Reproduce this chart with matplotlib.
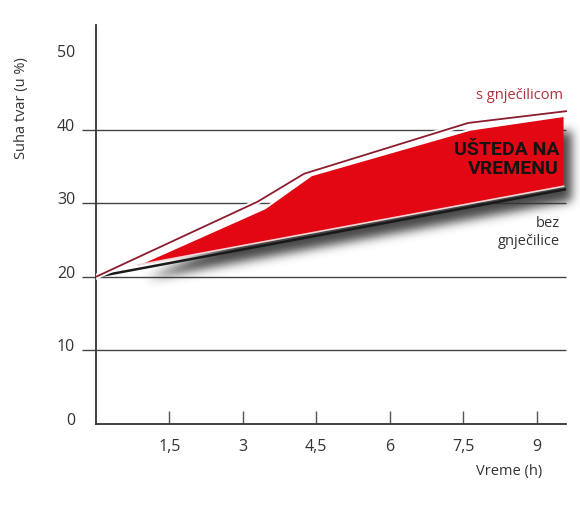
import numpy as np
import matplotlib
matplotlib.use("Agg")
import matplotlib.pyplot as plt
import matplotlib.patheffects as pe
from matplotlib.path import Path
from matplotlib.transforms import ScaledTranslation

# podaci (ocitano sa slike)
x_bez = [0, 9.6]
y_bez = [20, 31.9]
x_s = [0, 3.3, 4.25, 7.6, 9.6]
y_s = [20, 30.2, 34.0, 40.9, 42.5]
# crveno polje "usteda na vremenu"
x_fill_top = [0.85, 3.45, 4.4, 7.65, 9.55]
y_fill_top = [21.6, 29.3, 33.8, 40.0, 41.85]
x_fill_bot = [0.85, 9.55]
y_fill_bot = [21.6, 32.3]

y_ticks = [0, 10, 20, 30, 40, 50]
y_grid = [10, 20, 30, 40]
x_max = 9.6
x_ticks = [1.5, 3, 4.5, 6, 7.5, 9]
x_labels = ["1,5", "3", "4,5", "6", "7,5", "9"]

plt.rcParams['font.family'] = ['Open Sans', 'DejaVu Sans']

fig = plt.figure(figsize=(5.8, 5.05), dpi=100)
ax = fig.add_axes([0.1655, 0.1604, 0.8357, 0.8016])
ax.set_xlim(0, 9.9)
ax.set_ylim(0, 55)

# osi
for s in ['top', 'right']:
    ax.spines[s].set_visible(False)
ax.spines['left'].set_bounds(0, 54.2)
ax.spines['bottom'].set_bounds(0, x_max)
for s in ['left', 'bottom']:
    ax.spines[s].set_color('#333333')
    ax.spines[s].set_linewidth(1.3)

ax.yaxis.remove_overlapping_locs = False
ax.set_yticks(y_ticks)
ax.set_yticks(y_grid, minor=True)
ax.tick_params(axis='y', which='major', length=0, pad=15, labelsize=11.5, labelcolor='#333333')
ax.tick_params(axis='y', which='minor', length=10, width=1, color='#444444')
for lab in ax.get_yticklabels():
    lab.set_transform(lab.get_transform() + ScaledTranslation(0, 0.05, fig.dpi_scale_trans))

# mreza samo do kraja x osi
ax.hlines(y_grid, 0, x_max, color='#444444', linewidth=1, zorder=0.5)

ax.set_xticks(x_ticks)
ax.set_xticklabels(x_labels)
ax.tick_params(axis='x', direction='in', length=9.5, width=1, color='#555555',
               pad=11, labelsize=11.5, labelcolor='#333333')

# polje
poly_x = x_fill_top + x_fill_bot[::-1]
poly_y = y_fill_top + y_fill_bot[::-1]

# sjena (zamucena)
dx, dy = 0.17, -1.9
xs = np.linspace(0, 10.2, 500)
ys = np.linspace(12, 48, 265)
XX, YY = np.meshgrid(xs, ys)
path = Path(np.column_stack([np.array(poly_x) + dx, np.array(poly_y) + dy]))
mask = path.contains_points(np.column_stack([XX.ravel(), YY.ravel()])).reshape(XX.shape).astype(float)
k = np.exp(-0.5 * (np.arange(-14, 15) / 5.0) ** 2)
k /= k.sum()
mask = np.apply_along_axis(lambda r: np.convolve(r, k, mode='same'), 1, mask)
mask = np.apply_along_axis(lambda c: np.convolve(c, k, mode='same'), 0, mask)
img = np.zeros(mask.shape + (4,))
img[..., :3] = 0.2
img[..., 3] = np.clip(mask * 0.9, 0, 1)
ax.imshow(img, origin='lower', extent=[xs[0], xs[-1], ys[0], ys[-1]],
          aspect='auto', interpolation='bilinear', zorder=1)

ax.fill(poly_x, poly_y, color='#e30613', linewidth=0, zorder=2)
ax.plot(x_fill_top, y_fill_top, color='white', lw=1.5, zorder=2.1)
ax.plot(x_fill_bot, y_fill_bot, color='#f2d6d6', lw=1.2, zorder=2.1)

ax.plot(x_bez, y_bez, color='#1a1a1a', lw=1.8, zorder=3, solid_capstyle='butt')
ax.plot(x_s, y_s, color='#8c1d2e', lw=1.3, zorder=3,
        path_effects=[pe.Stroke(linewidth=4, foreground='white'), pe.Normal()])

ax.set_xlim(0, 9.9)
ax.set_ylim(0, 55)

# tekstovi
ax.text(9.54, 44.6, "s gnječilicom", ha='right', va='center', fontsize=10.5,
        color='#b0303d', zorder=4)
ax.text(9.46, 35.9, "UŠTEDA NA\nVREMENU", ha='right', va='center', fontsize=14,
        fontweight='bold', family=['Roboto', 'DejaVu Sans'], color='#141414',
        linespacing=1.05, multialignment='right', zorder=4)
ax.text(9.48, 26.0, "bez\ngnječilice", ha='right', va='center', fontsize=10.5,
        color='#333333', linespacing=1.3, multialignment='right', zorder=4)

fig.text(22 / 580, 1 - 108 / 505, "Suha tvar (u %)", rotation=90, ha='center',
         va='center', fontsize=10.5, color='#333333')
fig.text(542 / 580, 1 - 471 / 505, "Vreme (h)", ha='right', va='center',
         fontsize=10.5, color='#333333')

fig.savefig("out.png", dpi=100)
